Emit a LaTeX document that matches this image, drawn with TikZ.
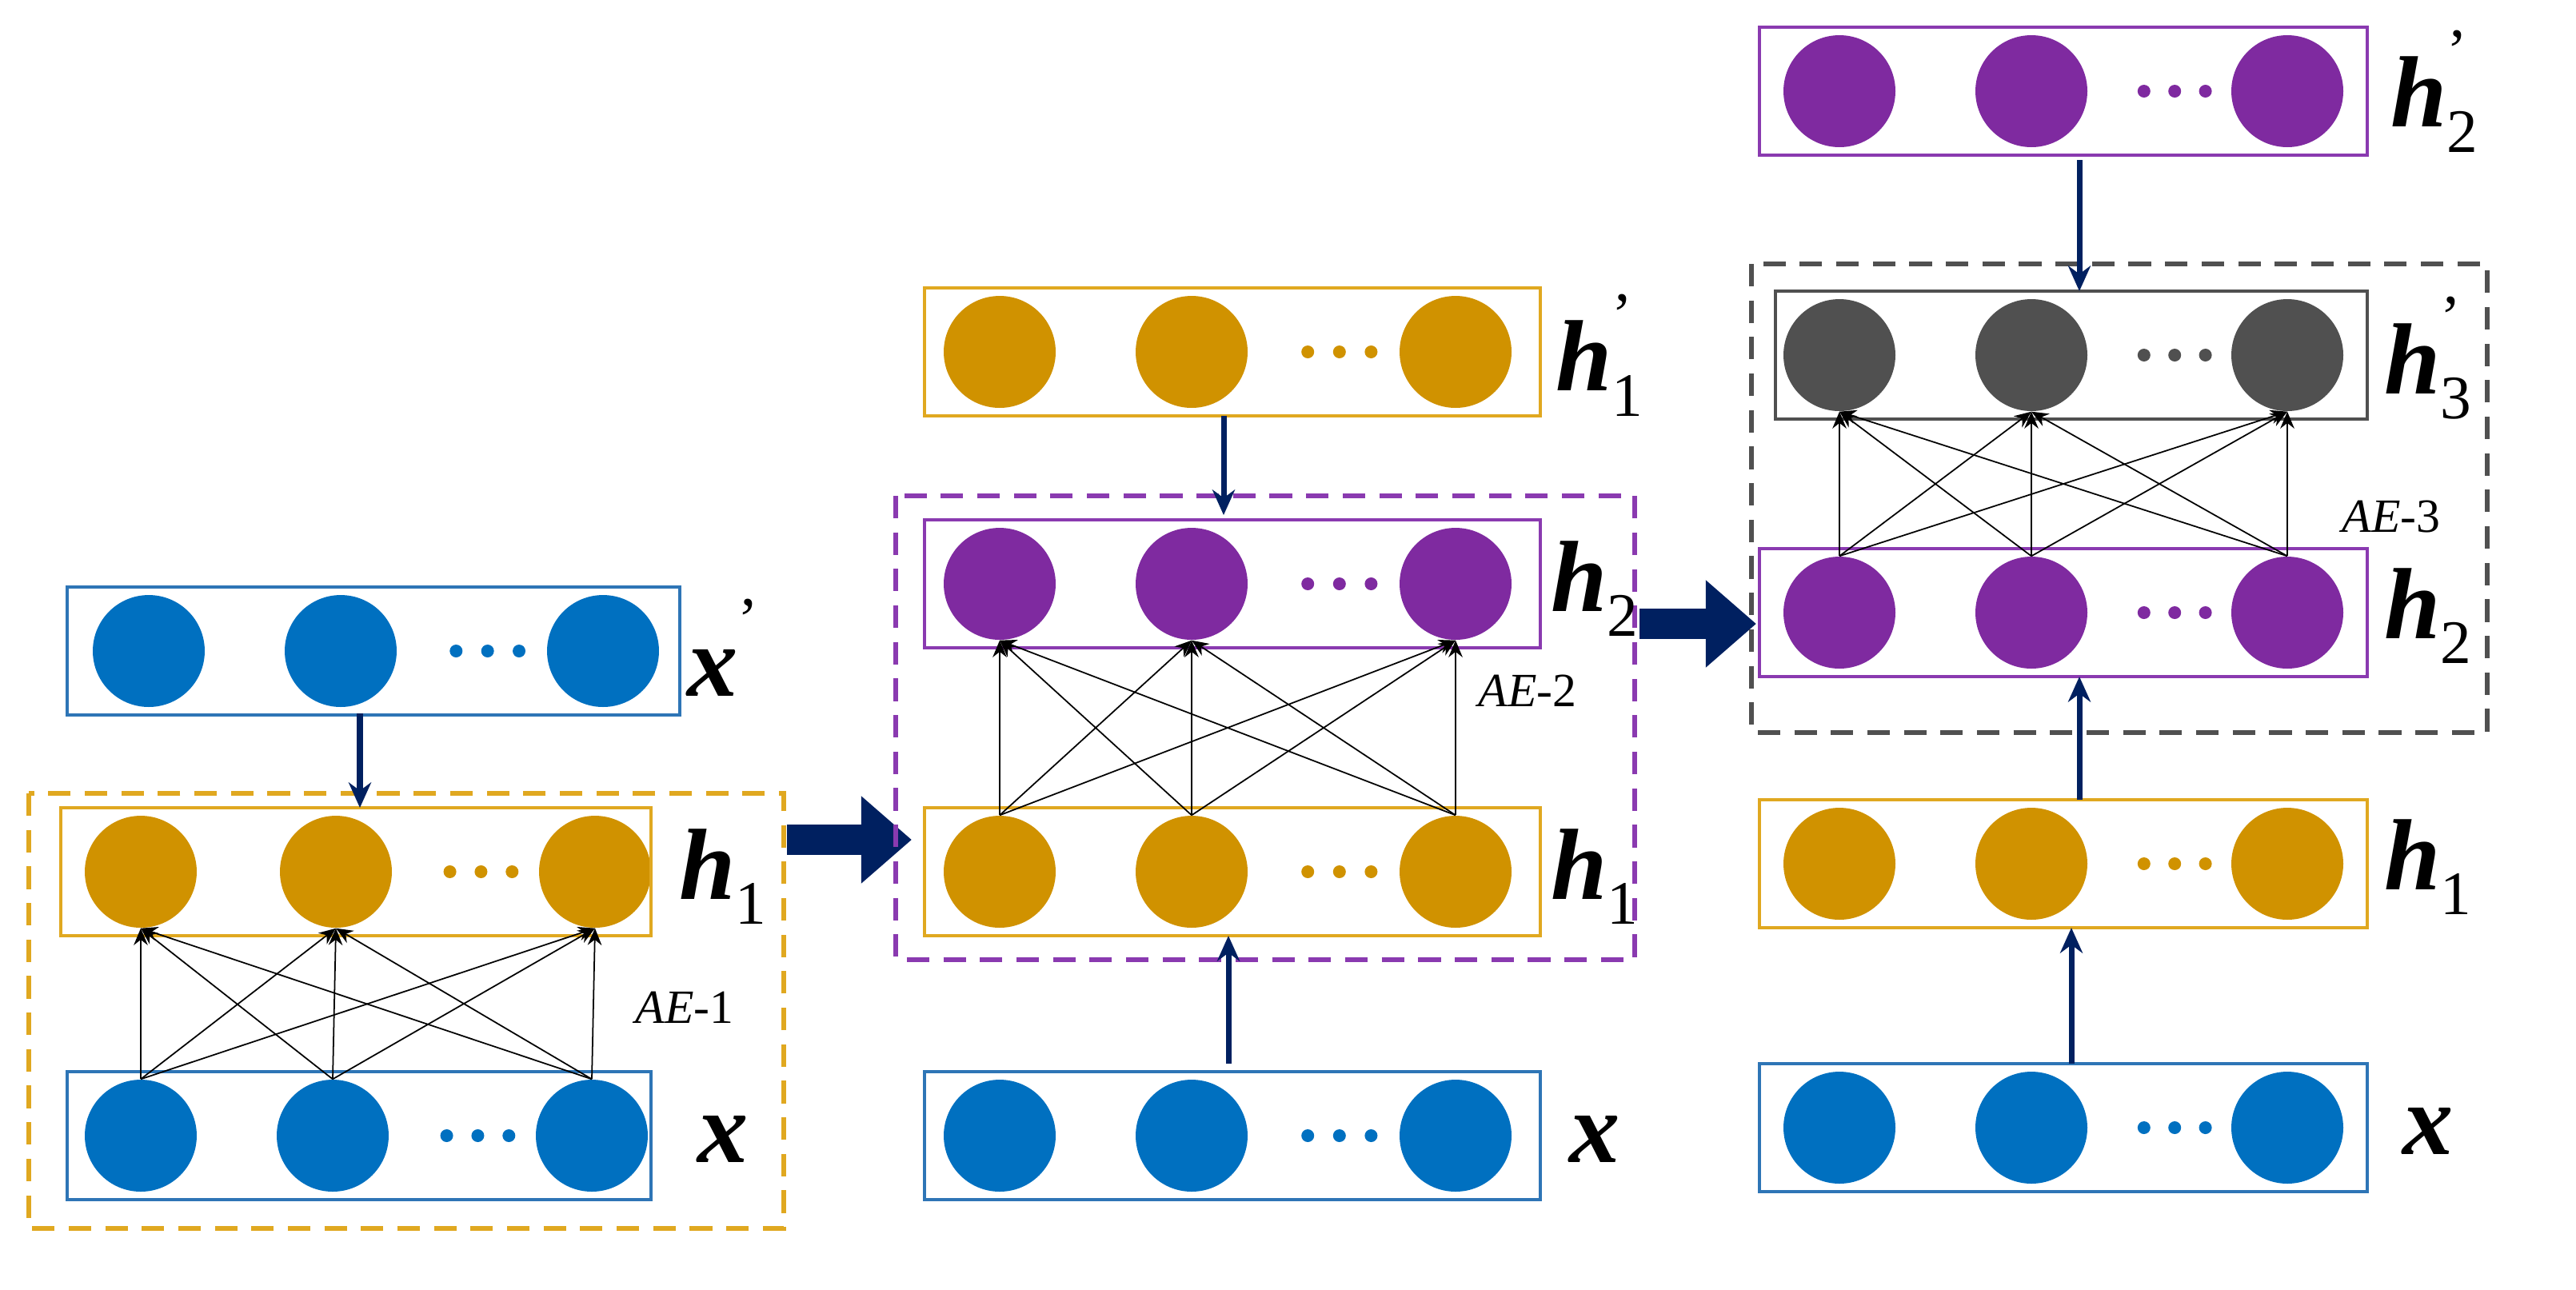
\documentclass[tikz,border=0pt]{standalone}
\usepackage{fontspec}
\setmainfont{Liberation Serif}
\newfontfamily\lf{Liberation Serif Bold Italic}
\usetikzlibrary{arrows.meta}
\definecolor{cb}{HTML}{0070C0}
\definecolor{co}{HTML}{D09200}
\definecolor{cp}{HTML}{7F2AA0}
\definecolor{cg}{HTML}{505050}
\definecolor{bb}{HTML}{2E75B6}
\definecolor{bo}{HTML}{E0A820}
\definecolor{bp}{HTML}{8A3AB0}
\definecolor{nv}{HTML}{002060}
\tikzset{
 neu/.style={circle,fill=#1,minimum size=1.4cm,inner sep=0pt},
 dot/.style={circle,fill=#1,minimum size=0.16cm,inner sep=0pt},
 lay/.style={draw=#1,line width=1.2pt,fill=none},
 dbox/.style={draw=#1,line width=1.5pt,dash pattern=on 8pt off 5pt},
 lab/.style={font=\fontsize{36}{40}\lf,inner sep=0pt},
 ae/.style={font=\fontsize{17}{20}\selectfont},
 con/.style={-{Stealth[length=6pt,width=5pt]},line width=0.5pt},
 nar/.style={-{Stealth[length=9pt,width=8pt]},draw=nv,line width=2pt},
 big/.style={-{Triangle[length=18pt,width=30pt]},draw=nv,line width=11pt}
}
\newcommand{\sub}[1]{\raisebox{-0.25em}{\fontsize{22}{24}\normalfont #1}}
\newcommand{\pri}{\raisebox{0.55em}{\fontsize{22}{24}\normalfont '}}
\newcommand{\hp}[1]{h\rlap{\pri}\sub{#1}}
\newcommand{\lrow}[9]{% name,y,x1,x2,x3,fill,boxcol,left,right
 \node[neu=#6] (#1a) at (#3,#2) {};
 \node[neu=#6] (#1b) at (#4,#2) {};
 \node[neu=#6] (#1c) at (#5,#2) {};
 \foreach \k in {0,1,2}{\node[dot=#6] at ({#4+0.56*(#5-#4)+\k*0.12*(#5-#4)-0.12*(#5-#4)},#2) {};}
 \draw[lay=#7] (#8,#2-40) rectangle (#9,#2+40);
}
\newcommand{\full}[2]{\foreach \s in {a,b,c}{\foreach \t in {a,b,c}{\draw[con] (#1\s.north) -- (#2\t.south);}}}
\begin{document}
\begin{tikzpicture}[x=0.02cm,y=-0.02cm]
\useasboundingbox (0,0) rectangle (1610.5,806);
% panel 1
\lrow{pa}{407}{93}{213}{377}{cb}{bb}{42}{425}
\lrow{pb}{545}{88}{210}{372}{co}{bo}{38}{407}
\lrow{pc}{710}{88}{208}{370}{cb}{bb}{42}{407}
\draw[dbox=bo] (18,496) rectangle (490,768);
\full{pc}{pb}
\draw[nar] (225,446) -- (225,505);
\node[lab] at (452,405) {x\pri};
\node[lab] at (452,548) {h\sub{1}};
\node[lab] at (452,712) {x};
\node[ae] at (428,630) {\textit{AE}-1};
\draw[big] (492,525) -- (570,525);
% panel 2
\lrow{qa}{220}{625}{745}{910}{co}{bo}{578}{963}
\lrow{qb}{365}{625}{745}{910}{cp}{bp}{578}{963}
\lrow{qc}{545}{625}{745}{910}{co}{bo}{578}{963}
\lrow{qd}{710}{625}{745}{910}{cb}{bb}{578}{963}
\draw[dbox=bp] (560,310) rectangle (1022,600);
\full{qc}{qb}
\draw[nar] (765,260) -- (765,322);
\draw[nar] (768,665) -- (768,585);
\node[lab] at (1000,222) {\hp{1}};
\node[lab] at (997,368) {h\sub{2}};
\node[lab] at (997,548) {h\sub{1}};
\node[lab] at (997,712) {x};
\node[ae] at (955,432) {\textit{AE}-2};
\draw[big] (1025,390) -- (1098,390);
% panel 3
\lrow{ra}{57}{1150}{1270}{1430}{cp}{bp}{1100}{1480}
\lrow{rb}{222}{1150}{1270}{1430}{cg}{cg}{1110}{1480}
\lrow{rc}{383}{1150}{1270}{1430}{cp}{bp}{1100}{1480}
\lrow{rd}{540}{1150}{1270}{1430}{co}{bo}{1100}{1480}
\lrow{re}{705}{1150}{1270}{1430}{cb}{bb}{1100}{1480}
\draw[dbox=cg] (1095,165) rectangle (1555,458);
\full{rc}{rb}
\draw[nar] (1300,100) -- (1300,182);
\draw[nar] (1300,500) -- (1300,423);
\draw[nar] (1295,665) -- (1295,580);
\node[lab] at (1522,57) {\hp{2}};
\node[lab] at (1518,224) {\hp{3}};
\node[lab] at (1518,385) {h\sub{2}};
\node[lab] at (1518,542) {h\sub{1}};
\node[lab] at (1518,707) {x};
\node[ae] at (1495,323) {\textit{AE}-3};
\end{tikzpicture}
\end{document}
